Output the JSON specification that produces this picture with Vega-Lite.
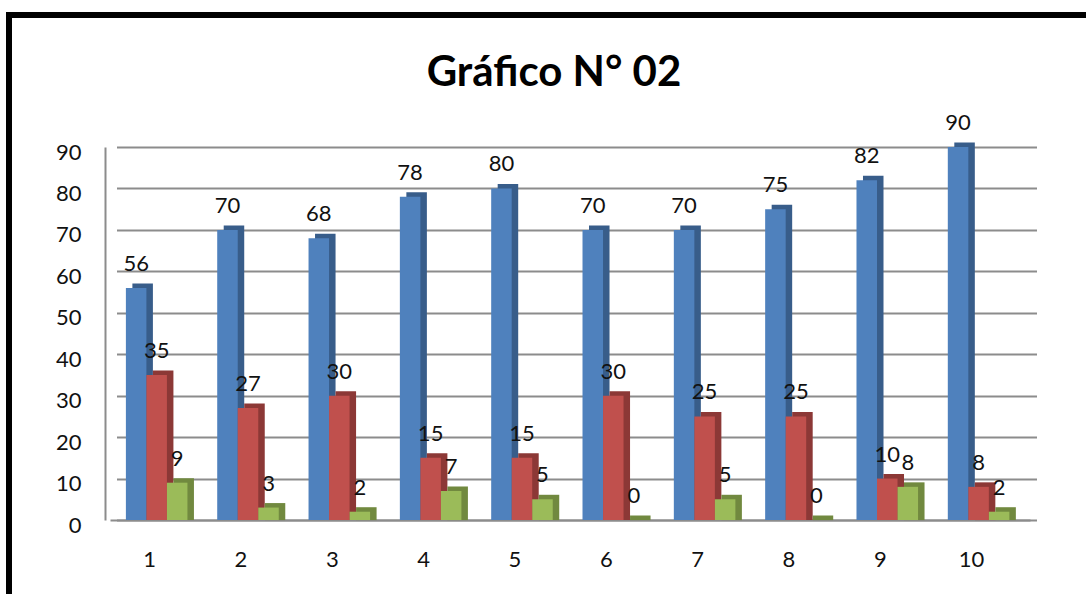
{
  "$schema": "https://vega.github.io/schema/vega-lite/v6.json",
  "width": 1090,
  "height": 590,
  "autosize": {"type": "none"},
  "padding": {"left": 9, "top": 15, "right": -13, "bottom": -11},
  "background": "white",
  "config": {
    "view": {"stroke": "black", "strokeWidth": 6},
    "font": "Lato"
  },
  "title": {
    "text": "Gráfico N° 02",
    "fontSize": 42,
    "font": "Lato",
    "fontWeight": "bold",
    "color": "black",
    "anchor": "middle",
    "offset": -80
  },
  "data": {
    "values": [
      {"cat": 1, "serie": "Serie 1", "v": 56}, {"cat": 1, "serie": "Serie 2", "v": 35}, {"cat": 1, "serie": "Serie 3", "v": 9},
      {"cat": 2, "serie": "Serie 1", "v": 70}, {"cat": 2, "serie": "Serie 2", "v": 27}, {"cat": 2, "serie": "Serie 3", "v": 3},
      {"cat": 3, "serie": "Serie 1", "v": 68}, {"cat": 3, "serie": "Serie 2", "v": 30}, {"cat": 3, "serie": "Serie 3", "v": 2},
      {"cat": 4, "serie": "Serie 1", "v": 78}, {"cat": 4, "serie": "Serie 2", "v": 15}, {"cat": 4, "serie": "Serie 3", "v": 7},
      {"cat": 5, "serie": "Serie 1", "v": 80}, {"cat": 5, "serie": "Serie 2", "v": 15}, {"cat": 5, "serie": "Serie 3", "v": 5},
      {"cat": 6, "serie": "Serie 1", "v": 70}, {"cat": 6, "serie": "Serie 2", "v": 30}, {"cat": 6, "serie": "Serie 3", "v": 0},
      {"cat": 7, "serie": "Serie 1", "v": 70}, {"cat": 7, "serie": "Serie 2", "v": 25}, {"cat": 7, "serie": "Serie 3", "v": 5},
      {"cat": 8, "serie": "Serie 1", "v": 75}, {"cat": 8, "serie": "Serie 2", "v": 25}, {"cat": 8, "serie": "Serie 3", "v": 0},
      {"cat": 9, "serie": "Serie 1", "v": 82}, {"cat": 9, "serie": "Serie 2", "v": 10}, {"cat": 9, "serie": "Serie 3", "v": 8},
      {"cat": 10, "serie": "Serie 1", "v": 90}, {"cat": 10, "serie": "Serie 2", "v": 8}, {"cat": 10, "serie": "Serie 3", "v": 2}
    ]
  },
  "encoding": {
    "y": {
      "field": "v",
      "type": "quantitative",
      "stack": null,
      "scale": {"domain": [0, 90], "range": [505, 132], "nice": false, "zero": true},
      "axis": {
        "title": null,
        "orient": "left",
        "offset": -96,
        "values": [0, 10, 20, 30, 40, 50, 60, 70, 80, 90],
        "ticks": false,
        "labelPadding": 24,
        "labelOffset": 5,
        "labelFontSize": 22,
        "labelColor": "#111111",
        "labelFont": "Lato",
        "domainColor": "#8c8c8c",
        "domainWidth": 2,
        "grid": true,
        "gridColor": "#8c8c8c",
        "gridWidth": 2
      }
    }
  },
  "layer": [
    {
      "mark": {"type": "bar", "yOffset": -4.5, "y2Offset": 0.1},
      "encoding": {
        "x": {
          "field": "cat",
          "type": "ordinal",
          "scale": {"range": [107.5, 1027.5], "paddingInner": 0.326, "paddingOuter": 0.2, "align": 0.435},
          "axis": null
        },
        "xOffset": {"field": "serie", "type": "nominal", "scale": {"paddingInner": 0, "paddingOuter": 0}},
        "y2": {"datum": 0},
        "color": {
          "field": "serie",
          "type": "nominal",
          "scale": {"range": ["#385D8A", "#8C3836", "#71893F"]},
          "legend": null
        }
      }
    },
    {
      "mark": {"type": "bar"},
      "encoding": {
        "x": {
          "field": "cat",
          "type": "ordinal",
          "scale": {"range": [101, 1021], "paddingInner": 0.326, "paddingOuter": 0.2, "align": 0.435},
          "axis": {
            "title": null,
            "orient": "bottom",
            "offset": -85,
            "ticks": false,
            "labelAngle": 0,
            "labelPadding": 29,
            "labelOffset": -7,
            "labelFontSize": 22,
            "labelColor": "#111111",
            "labelFont": "Lato",
            "domainColor": "#8c8c8c",
            "domainWidth": 2
          }
        },
        "xOffset": {"field": "serie", "type": "nominal", "scale": {"paddingInner": 0, "paddingOuter": 0}},
        "color": {
          "field": "serie",
          "type": "nominal",
          "scale": {"range": ["#4F81BD", "#C0504D", "#9BBB59"]},
          "legend": null
        }
      }
    },
    {
      "mark": {"type": "text", "baseline": "middle", "dy": -24, "fontSize": 22, "font": "Lato", "color": "#111111"},
      "encoding": {
        "x": {
          "field": "cat",
          "type": "ordinal",
          "scale": {"range": [101, 1021], "paddingInner": 0.326, "paddingOuter": 0.2, "align": 0.435},
          "axis": null
        },
        "xOffset": {"field": "serie", "type": "nominal", "scale": {"padding": 0.5}},
        "text": {"field": "v", "type": "quantitative"}
      }
    }
  ],
  "resolve": {"scale": {"x": "independent", "xOffset": "independent", "color": "independent"}}
}
